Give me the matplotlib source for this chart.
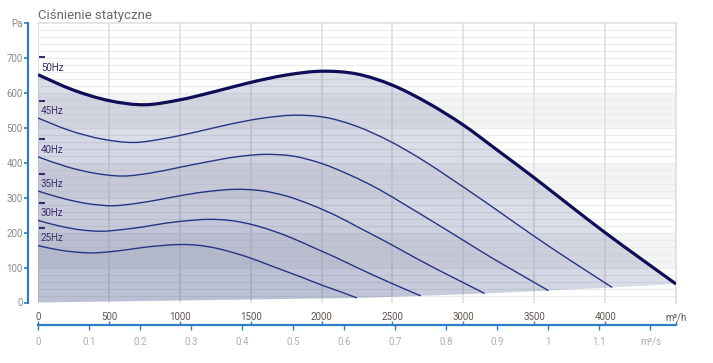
import numpy as np
import matplotlib.pyplot as plt
from matplotlib.path import Path
from matplotlib.patches import PathPatch
from matplotlib.transforms import offset_copy

plt.rcParams['font.family'] = ['Roboto', 'DejaVu Sans']

# odczyty z wykresu: wydatek [m3/h] i cisnienie [Pa] dla kazdej czestotliwosci
q50 = [0, 250, 500, 750, 1000, 1250, 1500, 1750, 2000, 2250, 2500, 2750, 3000, 3250, 3500, 3750, 4000, 4250, 4500]
p50 = [652, 608, 578, 566, 580, 604, 630, 651, 662, 654, 622, 571, 508, 433, 357, 278, 200, 126, 53]
q45 = [0, 225, 450, 675, 900, 1125, 1350, 1575, 1800, 2025, 2250, 2475, 2700, 2925, 3150, 3375, 3600, 3825, 4050]
p45 = [528, 492, 468, 458, 470, 489, 510, 527, 536, 530, 504, 463, 411, 351, 289, 225, 162, 102, 43]
q40 = [0, 200, 400, 600, 800, 1000, 1200, 1400, 1600, 1800, 2000, 2200, 2400, 2600, 2800, 3000, 3200, 3400, 3600]
p40 = [417, 389, 370, 362, 371, 387, 403, 417, 424, 419, 398, 365, 325, 277, 228, 178, 128, 81, 34]
q35 = [0, 175, 350, 525, 700, 875, 1050, 1225, 1400, 1575, 1750, 1925, 2100, 2275, 2450, 2625, 2800, 2975, 3150]
p35 = [319, 298, 283, 277, 284, 296, 309, 319, 324, 320, 305, 280, 249, 212, 175, 136, 98, 62, 26]
q30 = [0, 150, 300, 450, 600, 750, 900, 1050, 1200, 1350, 1500, 1650, 1800, 1950, 2100, 2250, 2400, 2550, 2700]
p30 = [235, 219, 208, 204, 209, 217, 227, 234, 238, 235, 224, 206, 183, 156, 129, 100, 72, 45, 19]
q25 = [0, 125, 250, 375, 500, 625, 750, 875, 1000, 1125, 1250, 1375, 1500, 1625, 1750, 1875, 2000, 2125, 2250]
p25 = [163, 152, 145, 142, 145, 151, 158, 163, 166, 164, 156, 143, 127, 108, 89, 70, 50, 32, 13]

labels = ['50Hz', '45Hz', '40Hz', '35Hz', '30Hz', '25Hz']
curves = [(q50, p50), (q45, p45), (q40, p40), (q35, p35), (q30, p30), (q25, p25)]

xticks_h = [0, 500, 1000, 1500, 2000, 2500, 3000, 3500, 4000, 4500]
xlabels_h = ['0', '500', '1000', '1500', '2000', '2500', '3000', '3500', '4000', 'm³/h']
xticks_s = [0, 0.1, 0.2, 0.3, 0.4, 0.5, 0.6, 0.7, 0.8, 0.9, 1.0, 1.1, 1.2]
xlabels_s = ['0', '0.1', '0.2', '0.3', '0.4', '0.5', '0.6', '0.7', '0.8', '0.9', '1', '1.1', 'm³/s']
yticks = [0, 100, 200, 300, 400, 500, 600, 700, 800]
ylabels = ['0', '100', '200', '300', '400', '500', '600', '700', 'Pa']


def smooth_path(q, p, tail_q=(), tail_p=(), closed=False):
    # gladka krzywa (Catmull-Rom -> Bezier) przez odczytane punkty
    pts = np.column_stack([q, p]).astype(float)
    verts = [pts[0]]
    codes = [Path.MOVETO]
    n = len(pts)
    for i in range(n - 1):
        p0 = pts[i - 1] if i > 0 else pts[i]
        p1, p2 = pts[i], pts[i + 1]
        p3 = pts[i + 2] if i + 2 < n else pts[i + 1]
        verts += [p1 + (p2 - p0) / 6, p2 - (p3 - p1) / 6, p2]
        codes += [Path.CURVE4] * 3
    for a, b in zip(tail_q, tail_p):
        verts.append((a, b))
        codes.append(Path.LINETO)
    if closed:
        verts.append(pts[0])
        codes.append(Path.CLOSEPOLY)
    return Path(verts, codes)


W, H = 713, 363
fig = plt.figure(figsize=(W / 100, H / 100), dpi=100)
L, R, B, T = 38, 676, 302.5, 23
ax = fig.add_axes([L / W, 1 - B / H, (R - L) / W, (B - T) / H])
ax.set_xlim(0, 4500)
ax.set_ylim(0, 800)

# tlo: pasy i siatka
for lo in (100, 300, 500):
    ax.axhspan(lo, lo + 100, color='#f4f4f4', zorder=0, lw=0)
for yy in np.arange(20, 800, 20):
    ax.axhline(yy, color='#ececec', lw=0.8, zorder=0.5)
for xx in xticks_h:
    ax.axvline(xx, color='#e0e0e0', lw=1.2, zorder=0.6)

# obszar pracy (warstwy)
ends_q = [c[0][-1] for c in curves] + [0]
ends_p = [c[1][-1] for c in curves] + [0]
for i, (q, p) in enumerate(curves):
    path = smooth_path(q, p, ends_q[i + 1:], ends_p[i + 1:], closed=True)
    ax.add_patch(PathPatch(path, facecolor='#2b3a7a', alpha=0.17 if i == 0 else 0.035,
                           lw=0, zorder=1))

for i, (q, p) in enumerate(curves):
    if i == 0:
        ax.add_patch(PathPatch(smooth_path(q, p), fill=False, edgecolor='#0f0d55', lw=2.3,
                               zorder=3, capstyle='butt'))
    else:
        ax.add_patch(PathPatch(smooth_path(q, p), fill=False, edgecolor='#243683', lw=1.0,
                               zorder=3))
    ax.annotate(labels[i], (q[0], p[0]), xytext=(2, 1.5), textcoords='offset points',
                fontsize=7, color='#3a2c6c', va='bottom', ha='left', zorder=4)
    ax.plot(q[0], p[0], marker='_', ms=4, mew=1.5, color='#3a2c6c', zorder=4, clip_on=False,
            transform=offset_copy(ax.transData, fig, x=4, y=17.5, units='dots'))

# osie
for s in ('top', 'right'):
    ax.spines[s].set_color('#e0e0e0')
    ax.spines[s].set_linewidth(1.2)
ax.spines['bottom'].set_visible(False)
ax.spines['left'].set_position(('outward', 7))
ax.spines['left'].set_color('#2f7dc6')
ax.spines['left'].set_linewidth(1.6)
ax.set_yticks(yticks)
ax.set_yticklabels(ylabels)
ax.tick_params(axis='y', colors='#2f7dc6', length=3, width=1.2, labelsize=7, labelcolor='#8a8a8a', pad=1)
ax.set_xticks([])

ax.text(0, 1.004, 'Ciśnienie statyczne', transform=ax.transAxes, fontsize=9.5,
        color='#6a6a6a', ha='left', va='bottom')

# dolne osie m3/h i m3/s
yl = 325
axq = fig.add_axes([L / W, 1 - yl / H, (R - L) / W, 0])
axq.set_xlim(0, 4500)
axq.set_yticks([])
for s in ('left', 'right', 'bottom'):
    axq.spines[s].set_visible(False)
axq.spines['top'].set_color('#2f7dc6')
axq.spines['top'].set_linewidth(1.6)
axq.xaxis.set_ticks_position('top')
axq.xaxis.set_label_position('top')
axq.set_xticks(xticks_h)
axq.set_xticklabels(xlabels_h)
axq.tick_params(axis='x', direction='out', length=3, width=1, colors='#2f7dc6',
                labelcolor='#5f5650', labelsize=7, pad=-1)

sec = axq.secondary_xaxis('bottom', functions=(lambda x: x / 3600.0, lambda x: x * 3600.0))
sec.spines['bottom'].set_visible(False)
sec.set_xticks(xticks_s)
sec.set_xticklabels(xlabels_s)
sec.tick_params(axis='x', direction='out', length=3.5, width=1, colors='#2f7dc6',
                labelcolor='#b0b0b0', labelsize=7, pad=5)

fig.savefig('out.png', dpi=100)
